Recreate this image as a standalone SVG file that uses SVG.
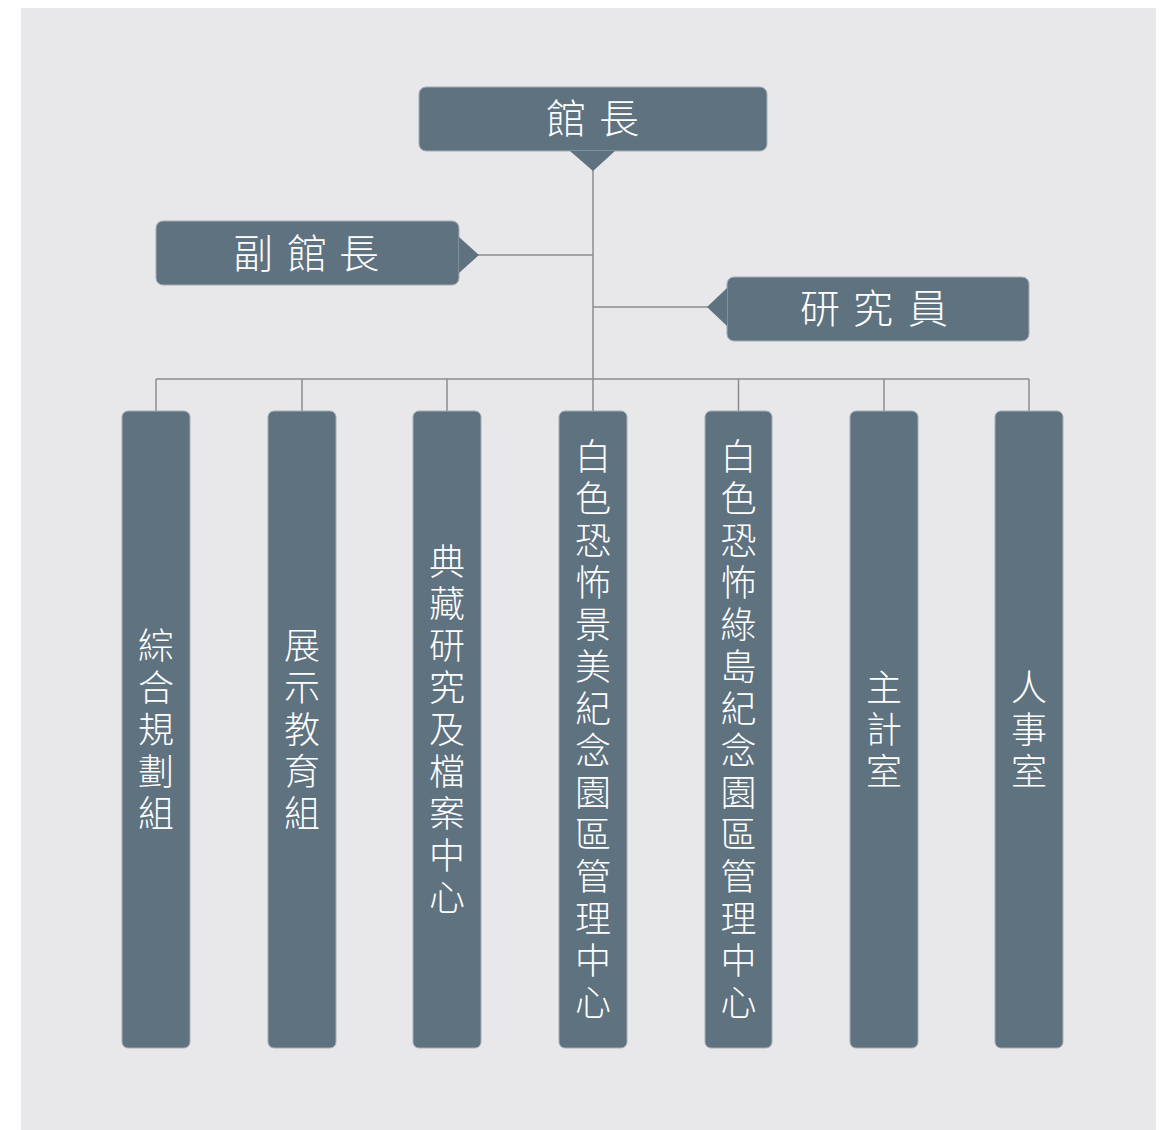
<svg xmlns="http://www.w3.org/2000/svg" width="1171" height="1130" viewBox="0 0 1171 1130">
<style>
.node{fill:#5f7280;stroke:#a3adb5;stroke-width:1}
.tri{fill:#5f7280}
.ln{stroke:#8c8c8c;stroke-width:1.5;fill:none}
.h{font-family:"Noto Sans CJK TC","Noto Sans CJK SC",sans-serif;font-size:40px;font-weight:300;fill:#ffffff;text-anchor:middle}
.v{font-family:"Noto Sans CJK TC","Noto Sans CJK SC",sans-serif;font-size:36px;font-weight:300;fill:#ffffff;text-anchor:middle}
</style>
<rect x="0" y="0" width="1171" height="1130" fill="#ffffff"/>
<rect x="21" y="8" width="1135" height="1122" fill="#e8e8ea"/>
<g id="connectors">
<line class="ln" x1="593" y1="168" x2="593" y2="411"/>
<line class="ln" x1="477" y1="255" x2="593" y2="255"/>
<line class="ln" x1="593" y1="307" x2="709" y2="307"/>
<line class="ln" x1="156" y1="379" x2="1029" y2="379"/>
<line class="ln" x1="156" y1="379" x2="156" y2="411"/>
<line class="ln" x1="302" y1="379" x2="302" y2="411"/>
<line class="ln" x1="447" y1="379" x2="447" y2="411"/>
<line class="ln" x1="738.5" y1="379" x2="738.5" y2="411"/>
<line class="ln" x1="884" y1="379" x2="884" y2="411"/>
<line class="ln" x1="1029" y1="379" x2="1029" y2="411"/>
</g>
<g id="director">
<rect class="node" x="419" y="87" width="348" height="64" rx="7"/>
<polygon class="tri" points="570,151 615,151 593,171"/>
<text class="h" x="566 619" y="133">館長</text>
</g>
<g id="deputy">
<rect class="node" x="156" y="221" width="303" height="64" rx="7"/>
<polygon class="tri" points="459,237 479,255 459,273"/>
<text class="h" x="253 307 359" y="268">副館長</text>
</g>
<g id="researcher">
<rect class="node" x="727" y="277" width="302" height="64" rx="7"/>
<polygon class="tri" points="727,288 707,307 727,326"/>
<text class="h" x="820 873 928" y="323">研究員</text>
</g>
<g id="dept1">
<rect class="node" x="122" y="411" width="68" height="637" rx="6"/>
<text class="v" x="156 156 156 156 156" y="659 701 743 785 827">綜合規劃組</text>
</g>
<g id="dept2">
<rect class="node" x="268" y="411" width="68" height="637" rx="6"/>
<text class="v" x="302 302 302 302 302" y="659 701 743 785 827">展示教育組</text>
</g>
<g id="dept3">
<rect class="node" x="413" y="411" width="68" height="637" rx="6"/>
<text class="v" x="447 447 447 447 447 447 447 447 447" y="575 617 659 701 743 785 827 869 911">典藏研究及檔案中心</text>
</g>
<g id="dept4">
<rect class="node" x="559" y="411" width="68" height="637" rx="6"/>
<text class="v" x="593 593 593 593 593 593 593 593 593 593 593 593 593 593" y="470 512 554 596 638 680 722 764 806 848 890 932 974 1016">白色恐怖景美紀念園區管理中心</text>
</g>
<g id="dept5">
<rect class="node" x="705" y="411" width="67" height="637" rx="6"/>
<text class="v" x="738.5 738.5 738.5 738.5 738.5 738.5 738.5 738.5 738.5 738.5 738.5 738.5 738.5 738.5" y="470 512 554 596 638 680 722 764 806 848 890 932 974 1016">白色恐怖綠島紀念園區管理中心</text>
</g>
<g id="dept6">
<rect class="node" x="850" y="411" width="68" height="637" rx="6"/>
<text class="v" x="884 884 884" y="701 743 785">主計室</text>
</g>
<g id="dept7">
<rect class="node" x="995" y="411" width="68" height="637" rx="6"/>
<text class="v" x="1029 1029 1029" y="701 743 785">人事室</text>
</g>
</svg>
